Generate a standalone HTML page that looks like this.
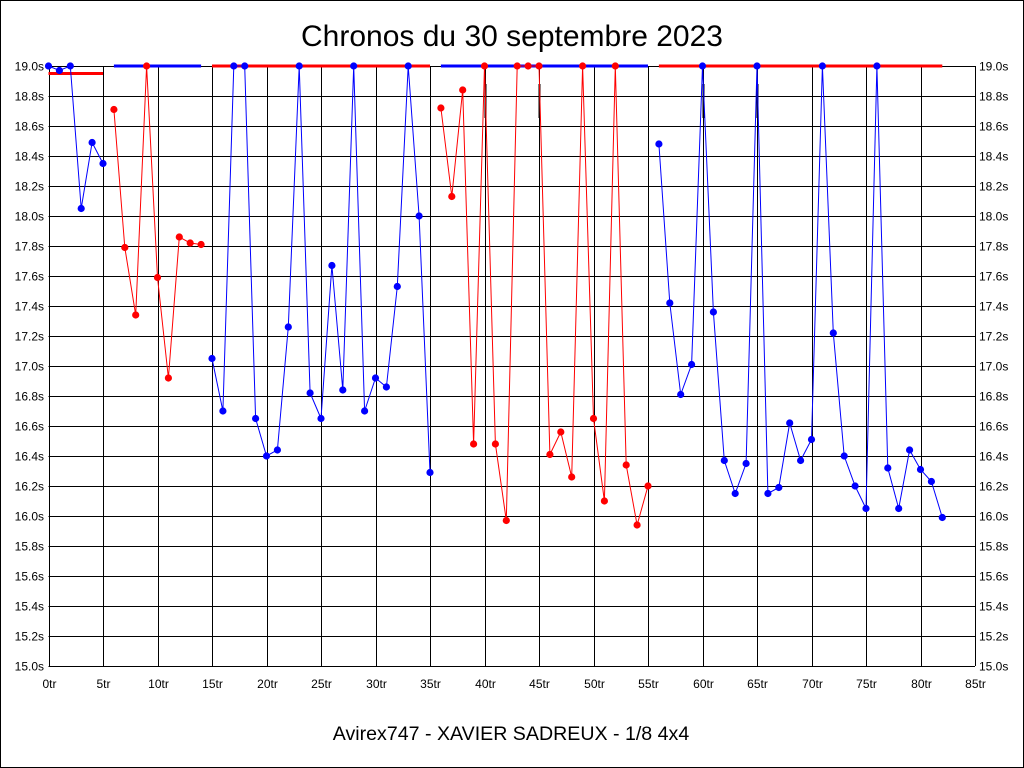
<!DOCTYPE html>
<html><head><meta charset="utf-8"><style>
html,body{margin:0;padding:0;background:#fff;}
svg{display:block;font-family:"Liberation Sans",sans-serif;}
</style></head><body>
<svg id="c" width="1024" height="768" xmlns="http://www.w3.org/2000/svg">
<rect x="0.5" y="0.5" width="1023" height="767" fill="#fff" stroke="#000"/>
<text x="512" y="46" font-size="30" text-anchor="middle">Chronos du 30 septembre 2023</text>
<text x="511" y="740" font-size="19.6" text-anchor="middle">Avirex747 - XAVIER SADREUX - 1/8 4x4</text>
<g id="g"></g>
</svg>
<script>
var g=document.getElementById('g'),s='';
var X=function(t){return 48.5+t*10.9},Y=function(v){return 66+(19-v)*150};
for(var i=0;i<=20;i++){var v=15+i*0.2,y=Math.round(Y(v))+0.5;
s+='<line x1="48.5" x2="975" y1="'+y+'" y2="'+y+'" stroke="#000"/>';
s+='<text x="44" y="'+(y+4)+'" font-size="12" text-anchor="end">'+v.toFixed(1)+'s</text>';
s+='<text x="979" y="'+(y+4)+'" font-size="12">'+v.toFixed(1)+'s</text>';}
for(var t=0;t<=85;t+=5){var x=Math.round(X(t))+0.5;
s+='<line x1="'+x+'" x2="'+x+'" y1="66" y2="666" stroke="#000"/>';
s+='<text x="'+x+'" y="688" font-size="12" text-anchor="middle">'+t+'tr</text>';}
var segs=[[0,'b',[19.0,18.97,19.0,18.05,18.49,18.35],18.95,'r'],
[6,'r',[18.71,17.79,17.34,19.0,17.59,16.92,17.86,17.82,17.81],19.0,'b'],
[15,'b',[17.05,16.7,19,19,16.65,16.4,16.44,17.26,19,16.82,16.65,17.67,16.84,19,16.7,16.92,16.86,17.53,19,18.0,16.29],19.0,'r'],
[36,'r',[18.72,18.13,18.84,16.48,19,16.48,15.97,19,19,19,16.41,16.56,16.26,19,16.65,16.1,19,16.34,15.94,16.2],19.0,'b'],
[56,'b',[18.48,17.42,16.81,17.01,19,17.36,16.37,16.15,16.35,19,16.15,16.19,16.62,16.37,16.51,19,17.22,16.4,16.2,16.05,19,16.32,16.05,16.44,16.31,16.23,15.99],19.0,'r']];
var col={b:'#0000ff',r:'#ff0000'};
[[40,18.9],[45,18.9],[60,18.9],[65,18.9]].forEach(function(p){var x=Math.round(X(p[0]))+0.5;s+='<line x1="'+x+'" x2="'+x+'" y1="84" y2="118" stroke="#000" stroke-width="2"/>';});
segs.forEach(function(sg){var st=sg[0],c=col[sg[1]],d=sg[2],n=d.length;
var hy=Y(sg[3]);s+='<line x1="'+X(st)+'" x2="'+X(st+n-1)+'" y1="'+hy+'" y2="'+hy+'" stroke="'+col[sg[4]]+'" stroke-width="3"/>';
var pts=d.map(function(v,i){return X(st+i).toFixed(1)+','+Y(v).toFixed(1)}).join(' ');
s+='<polyline points="'+pts+'" fill="none" stroke="'+c+'" stroke-width="1"/>';
d.forEach(function(v,i){s+='<circle cx="'+X(st+i)+'" cy="'+Y(v)+'" r="3.6" fill="'+c+'"/>';});});
g.innerHTML=s;
</script>
</body></html>
